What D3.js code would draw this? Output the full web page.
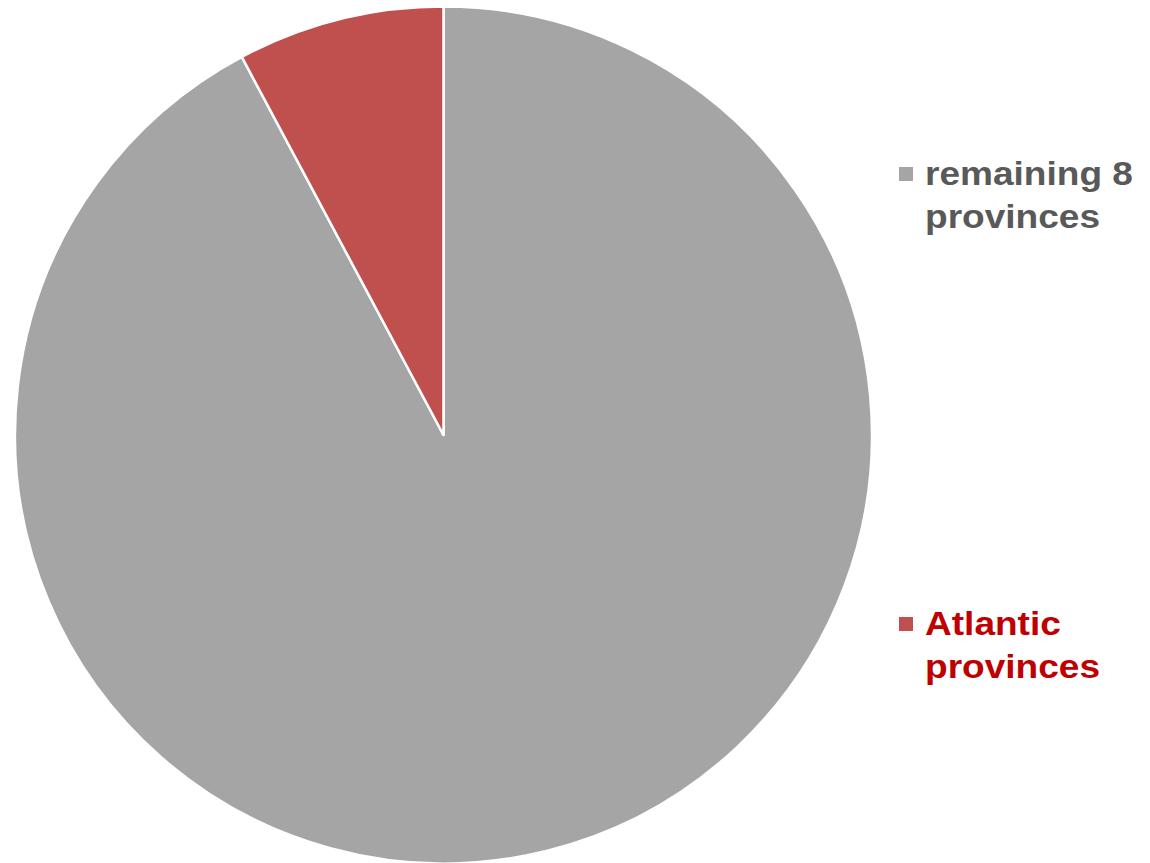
<!DOCTYPE html>
<html>
<head>
<meta charset="utf-8">
<script src="https://cdn.jsdelivr.net/npm/d3@7"></script>
<style>
  html, body { margin: 0; padding: 0; background: #fff; }
  svg { display: block; }
</style>
</head>
<body>
<svg id="chart" width="1150" height="863"></svg>
<script>
const categories = ["remaining 8 provinces", "Atlantic provinces"];
const values = [92.2, 7.8];
const legendLines = [["remaining 8", "provinces"], ["Atlantic", "provinces"]];
const sliceColors = ["#A5A5A5", "#C0504D"];
const textColors = ["#595959", "#C00000"];

const svg = d3.select("#chart");
const cx = 443.5, cy = 435, r = 428.5;

const pie = d3.pie().sort(null).value(d => d.v);
const arc = d3.arc().innerRadius(0).outerRadius(r);
const data = categories.map((c, i) => ({c, v: values[i], i}));

svg.append("g").attr("transform", `translate(${cx},${cy})`)
  .selectAll("path").data(pie(data)).join("path")
  .attr("d", arc)
  .attr("fill", d => sliceColors[d.data.i])
  .attr("stroke", "#fff")
  .attr("stroke-width", 2.5)
  .attr("stroke-linejoin", "round");

const legendY = [167, 617];
const leg = svg.append("g");
data.forEach((d, i) => {
  const g = leg.append("g").attr("transform", `translate(899,${legendY[i]})`);
  g.append("rect").attr("width", 14).attr("height", 14).attr("fill", sliceColors[i]);
  legendLines[i].forEach((line, j) => {
    g.append("text")
      .attr("transform", `translate(26,${18 + j * 43}) scale(1.09,1)`)
      .attr("font-family", "Liberation Sans, Arial, sans-serif")
      .attr("font-weight", "bold")
      .attr("font-size", 34)
      .attr("fill", textColors[i])
      .text(line);
  });
});
</script>
</body>
</html>
